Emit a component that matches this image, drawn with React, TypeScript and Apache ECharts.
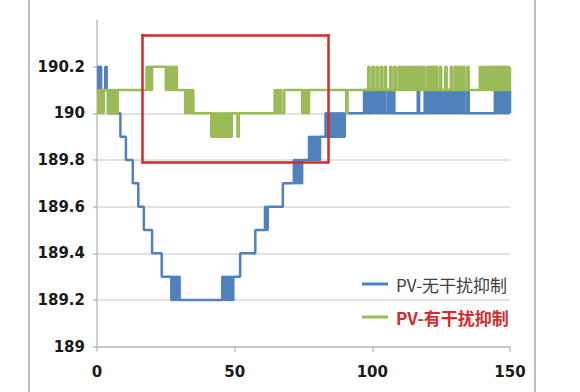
import React, { useEffect, useRef } from "react";
import * as echarts from "echarts";

// Sampling of the process value along the x axis (one reading every 0.5 time units)
const SAMPLE_STEP = 0.5;
// Readings are stored as tenths above this baseline (e.g. 10 -> 190.0, 12 -> 190.2)
const BASELINE = 189;

const SERIES_NAMES = ["PV-无干扰抑制", "PV-有干扰抑制"];

// PV without disturbance rejection (blue), one row = 5 time units
const pvNoRejection = [
  12, 11, 12, 11, 11, 11, 12, 11, 10, 10,
  10, 10, 10, 10, 10, 10, 10, 9, 9, 9,
  9, 8, 8, 8, 8, 8, 7, 7, 7, 7,
  6, 6, 6, 6, 5, 5, 5, 5, 5, 5,
  4, 4, 4, 4, 4, 4, 4, 3, 3, 3,
  3, 3, 3, 3, 2, 3, 2, 3, 2, 3,
  2, 2, 2, 2, 2, 2, 2, 2, 2, 2,
  2, 2, 2, 2, 2, 2, 2, 2, 2, 2,
  2, 2, 2, 2, 2, 2, 2, 2, 2, 2,
  2, 3, 2, 3, 2, 3, 2, 3, 2, 3,
  3, 3, 3, 3, 4, 4, 4, 4, 4, 4,
  4, 4, 4, 4, 4, 5, 5, 5, 5, 5,
  5, 5, 6, 5, 6, 6, 6, 6, 6, 6,
  6, 6, 6, 6, 6, 7, 7, 7, 7, 7,
  7, 7, 7, 8, 7, 8, 7, 8, 7, 8,
  8, 8, 8, 8, 9, 8, 9, 8, 9, 8,
  9, 8, 9, 9, 9, 9, 10, 9, 10, 9,
  10, 9, 10, 9, 10, 9, 10, 9, 10, 9,
  10, 10, 10, 10, 10, 10, 10, 10, 10, 10,
  10, 10, 10, 10, 11, 10, 11, 10, 11, 10,
  11, 10, 11, 10, 11, 10, 11, 10, 11, 10,
  10, 11, 10, 11, 10, 11, 10, 10, 10, 10,
  10, 10, 10, 10, 10, 10, 10, 10, 10, 10,
  10, 10, 10, 11, 10, 10, 10, 10, 11, 10,
  11, 10, 11, 10, 11, 10, 11, 10, 11, 10,
  11, 10, 11, 10, 11, 10, 11, 10, 11, 10,
  11, 10, 11, 10, 11, 10, 11, 10, 10, 11,
  10, 10, 10, 10, 10, 10, 10, 10, 10, 10,
  10, 10, 10, 10, 10, 10, 10, 10, 10, 11,
  10, 11, 10, 11, 10, 11, 10, 11, 10, 11,
  10,
];

// PV with disturbance rejection (green), one row = 5 time units
const pvWithRejection = [
  10, 11, 10, 11, 10, 11, 11, 11, 10, 11,
  10, 11, 10, 11, 10, 11, 11, 11, 11, 11,
  11, 11, 11, 11, 11, 11, 11, 11, 11, 11,
  11, 11, 11, 11, 11, 11, 12, 11, 12, 11,
  12, 12, 12, 12, 12, 12, 12, 12, 12, 12,
  11, 12, 11, 12, 11, 12, 11, 12, 11, 11,
  11, 11, 11, 11, 10, 11, 10, 11, 10, 11,
  10, 10, 10, 10, 10, 10, 10, 10, 10, 10,
  10, 10, 10, 9, 10, 9, 10, 9, 10, 9,
  10, 9, 10, 9, 10, 9, 10, 9, 10, 10,
  10, 10, 9, 10, 10, 10, 10, 10, 10, 10,
  10, 10, 10, 10, 10, 10, 10, 10, 10, 10,
  10, 10, 10, 10, 10, 10, 10, 10, 10, 11,
  10, 11, 10, 11, 10, 10, 11, 11, 11, 11,
  11, 11, 11, 11, 11, 11, 11, 11, 11, 10,
  11, 10, 11, 10, 11, 11, 11, 11, 11, 11,
  11, 11, 11, 11, 11, 11, 11, 11, 11, 11,
  11, 11, 11, 11, 11, 11, 11, 11, 11, 11,
  11, 10, 11, 11, 11, 11, 11, 11, 11, 11,
  11, 11, 11, 11, 11, 11, 11, 12, 11, 11,
  12, 11, 11, 12, 11, 11, 12, 11, 11, 12,
  11, 11, 11, 12, 11, 11, 12, 11, 11, 12,
  11, 12, 11, 12, 11, 12, 11, 12, 11, 12,
  11, 12, 11, 12, 11, 12, 11, 12, 11, 11,
  12, 11, 12, 11, 12, 11, 12, 11, 11, 12,
  11, 11, 11, 12, 11, 11, 11, 12, 11, 11,
  12, 11, 12, 11, 12, 11, 12, 11, 11, 12,
  11, 11, 11, 11, 11, 11, 11, 11, 12, 11,
  12, 11, 12, 11, 12, 11, 12, 11, 12, 11,
  12, 11, 12, 11, 12, 11, 12, 11, 12, 11,
  12,
];

// Axis ticks
const X_TICKS = [0, 50, 100, 150];
const Y_TICKS = [189, 189.2, 189.4, 189.6, 189.8, 190, 190.2];
const Y_AXIS_TOP = 190.4;

// Highlighted region (red box): [xStart, xEnd], [yBottom, yTop]
const HIGHLIGHT_X = [16.5, 84.0];
const HIGHLIGHT_Y = [189.79, 190.336];

const BLUE = "#4f81bd";
const GREEN = "#9bbb59";
const RED = "#d42a2a";

function toPoints(tenths: number[]) {
  return tenths.map((v, i) => [i * SAMPLE_STEP, Math.round((BASELINE + v / 10) * 10) / 10]);
}

function fmtY(v: number) {
  return String(parseFloat(Number(v).toFixed(1)));
}

export default function App() {
  const ref = useRef<HTMLDivElement>(null);

  useEffect(() => {
    if (!ref.current) return;
    const chart = echarts.init(ref.current, null, { renderer: "svg" });
    const [x0, x1] = HIGHLIGHT_X;
    const [y0, y1] = HIGHLIGHT_Y;
    const axisFont = {
      fontFamily: "DejaVu Sans",
      fontSize: 15,
      fontWeight: "bold" as const,
      color: "#1a1a1a",
    };
    chart.setOption({
      animation: false,
      backgroundColor: "#ffffff",
      grid: { left: 97, right: 70, top: 20, bottom: 45.3 },
      graphic: [
        {
          type: "rect",
          shape: { x: 29, y: -4, width: 506, height: 400 },
          style: { fill: "none", stroke: "#bdbdbd", lineWidth: 2 },
          silent: true,
          z: -1,
        },
      ],
      legend: {
        orient: "vertical",
        left: 362,
        top: 274,
        padding: 0,
        itemWidth: 26,
        itemHeight: 3,
        itemGap: 13,
        icon: "rect",
        selectedMode: false,
        itemStyle: { borderWidth: 0, borderColor: "transparent" },
        lineStyle: { width: 0, color: "transparent" },
        textStyle: {
          fontFamily: "Noto Sans CJK SC",
          fontSize: 17,
          lineHeight: 20,
          color: "#404040",
          padding: [0, 0, 0, 3],
        },
        data: [
          { name: SERIES_NAMES[0] },
          {
            name: SERIES_NAMES[1],
            textStyle: { color: RED, fontWeight: "bold" },
          },
        ],
      },
      xAxis: {
        type: "value",
        min: X_TICKS[0],
        max: X_TICKS[X_TICKS.length - 1],
        interval: X_TICKS[1] - X_TICKS[0],
        axisLine: { show: true, lineStyle: { color: "#bfbfbf", width: 1.5 } },
        axisTick: { show: true, length: 5, lineStyle: { color: "#bfbfbf", width: 1.5 } },
        axisLabel: { ...axisFont, margin: 18 },
        splitLine: { show: false },
      },
      yAxis: {
        type: "value",
        min: Y_TICKS[0],
        max: Y_AXIS_TOP,
        interval: 0.2,
        axisLine: { show: true, lineStyle: { color: "#bfbfbf", width: 1.5 } },
        axisTick: {
          show: true,
          length: 4,
          customValues: Y_TICKS,
          lineStyle: { color: "#bfbfbf", width: 1.5 },
        },
        axisLabel: {
          ...axisFont,
          margin: 12,
          customValues: Y_TICKS,
          formatter: (v: number) => (v > Y_TICKS[Y_TICKS.length - 1] + 0.05 ? "" : fmtY(v)),
        },
        splitLine: {
          show: true,
          showMaxLine: false,
          lineStyle: { color: "#d9d9d9", width: 1.5 },
        },
      },
      series: [
        {
          type: "line",
          name: SERIES_NAMES[0],
          data: toPoints(pvNoRejection),
          step: "end",
          symbol: "none",
          showSymbol: false,
          lineStyle: { color: BLUE, width: 2.5 },
          itemStyle: { color: BLUE },
          emphasis: { disabled: true },
          z: 2,
        },
        {
          type: "line",
          name: SERIES_NAMES[1],
          data: toPoints(pvWithRejection),
          step: "end",
          symbol: "none",
          showSymbol: false,
          lineStyle: { color: GREEN, width: 2.5 },
          itemStyle: { color: GREEN },
          emphasis: { disabled: true },
          z: 3,
          markLine: {
            silent: true,
            symbol: ["none", "none"],
            label: { show: false },
            lineStyle: { color: RED, width: 2.5, type: "solid", cap: "round" },
            emphasis: { disabled: true },
            data: [
              [{ coord: [x0, y1] }, { coord: [x1, y1] }],
              [{ coord: [x1, y1] }, { coord: [x1, y0] }],
              [{ coord: [x1, y0] }, { coord: [x0, y0] }],
              [{ coord: [x0, y0] }, { coord: [x0, y1] }],
            ],
          },
        },
      ],
    });
    return () => chart.dispose();
  }, []);

  return (
    <div
      ref={ref}
      style={{ position: "fixed", left: 0, top: 0, width: 580, height: 392, background: "#fff" }}
    />
  );
}
